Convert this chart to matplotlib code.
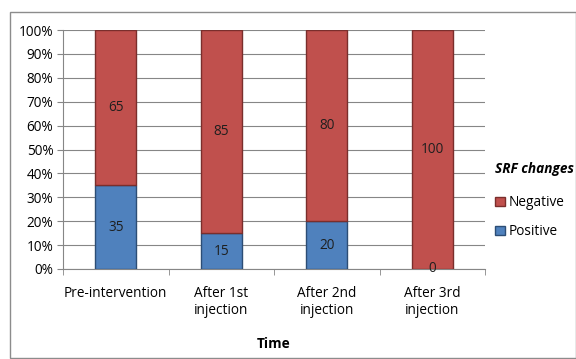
import matplotlib.pyplot as plt
from matplotlib.patches import Rectangle
import numpy as np

categories = ["Pre-intervention", "After 1st\ninjection", "After 2nd\ninjection", "After 3rd\ninjection"]
positive = [35, 15, 20, 0]
negative = [65, 85, 80, 100]
yticks = [0, 10, 20, 30, 40, 50, 60, 70, 80, 90, 100]

plt.rcParams['font.family'] = ['Open Sans', 'DejaVu Sans']

fig = plt.figure(figsize=(5.76, 3.59), dpi=100)
fig.patches.append(Rectangle((10/576, 1-358/359), 566/576, 346/359, transform=fig.transFigure,
                             fill=False, edgecolor='#8c8c8c', linewidth=1.0))
ax = fig.add_axes([63/576, 1-269/359, 422/576, 239/359])

x = np.arange(len(categories))
w = 0.39
red = '#C0504D'
blue = '#4F81BD'
fs = 9.8
bp = ax.bar(x, positive, w, color=blue, edgecolor='#2c4d75', linewidth=1.0, zorder=3)
bn = ax.bar(x, negative, w, bottom=positive, color=red, edgecolor='#7a2e2c', linewidth=1.0, zorder=3)

for i in range(len(categories)):
    if positive[i] > 0:
        ax.text(x[i], positive[i]/2, str(positive[i]), ha='center', va='center', fontsize=fs, color='#1f1f1f', zorder=4)
    else:
        ax.text(x[i], 0, str(positive[i]), ha='center', va='center', fontsize=fs, color='#1f1f1f', zorder=4)
    ax.text(x[i], positive[i] + negative[i]/2, str(negative[i]), ha='center', va='center', fontsize=fs, color='#1f1f1f', zorder=4)

ax.set_xlim(-0.5, len(categories) - 0.5)
ax.set_ylim(0, 100)
ax.set_yticks(yticks)
ax.set_yticklabels([f"{v}%" for v in yticks], fontsize=fs)
ax.set_xticks(x)
ax.set_xticklabels(categories, fontsize=fs)
ax.set_xticks(np.arange(len(categories) + 1) - 0.5, minor=True)
ax.tick_params(axis='x', which='major', length=0, pad=12)
ax.tick_params(axis='x', which='minor', length=4, color='#868686')
ax.tick_params(axis='y', length=4, color='#868686', pad=3)
ax.yaxis.grid(True, color='#868686', linewidth=0.8, zorder=0)
for s in ['top', 'right']:
    ax.spines[s].set_visible(False)
ax.spines['left'].set_color('#868686')
ax.spines['bottom'].set_color('#868686')
ax.set_xlabel("Time", fontsize=fs, fontweight='bold', labelpad=14)

leg = ax.legend([bn, bp], ["Negative", "Positive"], loc='upper left', bbox_to_anchor=(0.995, 0.50),
                frameon=False, fontsize=fs, handlelength=0.7, handleheight=0.7, handletextpad=0.3,
                labelspacing=1.05, title="SRF changes",
                title_fontproperties={'weight': 'bold', 'style': 'italic', 'size': fs})
leg._legend_box.align = 'left'
leg._legend_box.sep = 14

fig.savefig('out.png', dpi=100)
